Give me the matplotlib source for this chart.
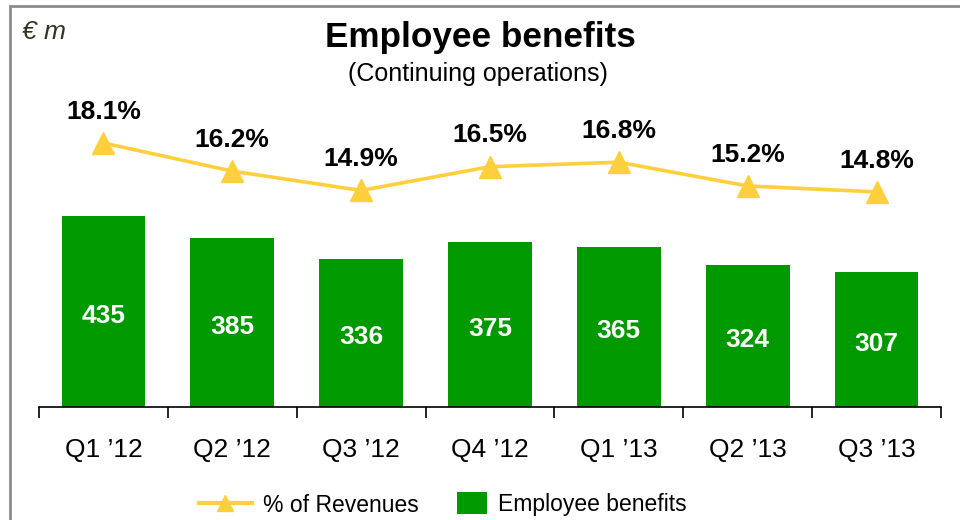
import matplotlib.pyplot as plt
from matplotlib.lines import Line2D
from matplotlib.patches import Patch, Rectangle

plt.rcParams['font.family'] = ['Liberation Sans', 'DejaVu Sans']

quarters = ["Q1 \u201912", "Q2 \u201912", "Q3 \u201912", "Q4 \u201912", "Q1 \u201913", "Q2 \u201913", "Q3 \u201913"]
benefits = [435, 385, 336, 375, 365, 324, 307]
pct_revenues = [18.1, 16.2, 14.9, 16.5, 16.8, 15.2, 14.8]

green = "#009900"
gold = "#FFD03C"

fig = plt.figure(figsize=(9.6, 5.2), dpi=100)
ax = fig.add_axes([39 / 960, 1 - 407 / 520, 902 / 960, 307 / 520])
ax2 = ax.twinx()

x = list(range(len(quarters)))
ax.bar(x, benefits, width=0.65, color=green, zorder=2)
for xi, v in zip(x, benefits):
    ax.annotate(str(v), (xi, v / 2), xytext=(0, -3), textcoords="offset points",
                ha="center", va="center", color="white",
                fontsize=19, fontweight="bold")

ax.set_xlim(-0.5, len(quarters) - 0.5)
ax.set_ylim(0, 699)
ax.set_xticks([i - 0.5 for i in range(len(quarters) + 1)])
ax.set_xticklabels([])
ax.set_xticks(x, minor=True)
ax.set_xticklabels(quarters, minor=True, fontsize=19)
ax.tick_params(axis="x", which="major", direction="out", length=8, width=1.2)
ax.tick_params(axis="x", which="minor", length=0, pad=22.5)
ax.set_yticks([])
for s in ["top", "left", "right"]:
    ax.spines[s].set_visible(False)
ax.spines["bottom"].set_linewidth(1.2)

ax2.plot(x, pct_revenues, color=gold, linewidth=2.6, marker="^", markersize=15.5, zorder=3)
for xi, p in zip(x, pct_revenues):
    ax2.annotate(f"{p}%", (xi, p), xytext=(0, 22.5), textcoords="offset points",
                 ha="center", va="center", fontsize=19, fontweight="bold")
ax2.set_ylim(0.32, 20.99)
ax2.set_yticks([])
for s in ax2.spines.values():
    s.set_visible(False)

fig.text(480 / 960, 1 - 38 / 520, "Employee benefits", ha="center", va="center",
         fontsize=25.3, fontweight="bold")
fig.text(478 / 960, 1 - 74 / 520, "(Continuing operations)", ha="center", va="center",
         fontsize=18)
fig.text(22 / 960, 1 - 32 / 520, "\u20ac m", ha="left", va="center", fontsize=19,
         style="italic", color="#333322")

fig.patches.append(Rectangle((9.5 / 960, -0.1), 1.2, 1 - 6.5 / 520 + 0.1,
                             transform=fig.transFigure, fill=False,
                             edgecolor="#8c8c8c", linewidth=2))

fig.legend([Line2D([], [], color=gold, linewidth=3, marker="^", markersize=12)],
           ["% of Revenues"], loc="center left",
           bbox_to_anchor=(199 / 960, 1 - 505 / 520), frameon=False,
           fontsize=16.5, handlelength=2.3, handletextpad=0.48,
           borderpad=0, borderaxespad=0)
fig.legend([Patch(facecolor=green)], ["Employee benefits"], loc="center left",
           bbox_to_anchor=(457 / 960, 1 - 504 / 520), frameon=False,
           fontsize=16.5, handlelength=1.31, handleheight=1.09, handletextpad=0.48,
           borderpad=0, borderaxespad=0)

fig.savefig("out.png", dpi=100)
